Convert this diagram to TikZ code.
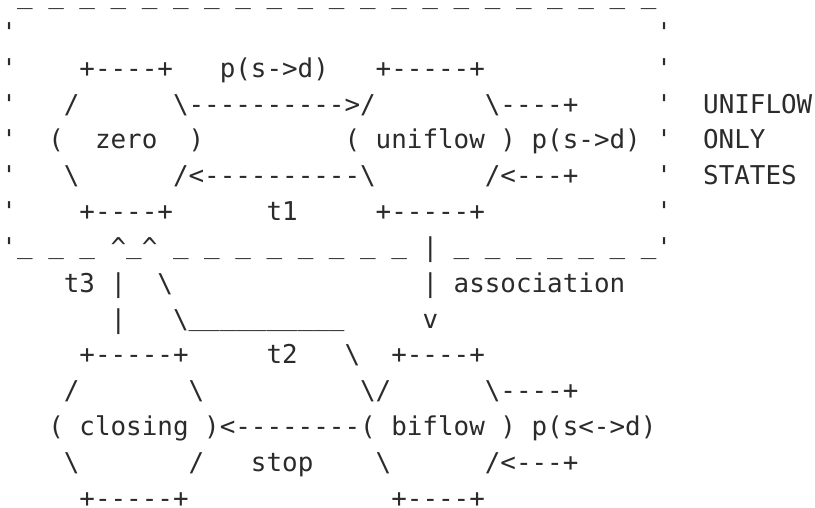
\documentclass[tikz,border=0pt]{standalone}
\usepackage{fontspec}
\setmonofont{DejaVu Sans Mono}
\definecolor{ink}{HTML}{2B2B2B}
% one character cell of the monospaced font
\newcommand\gap[1]{\hskip#1\fontcharwd\font`M\relax}
\newcommand\bs{\textbackslash}
\newcommand\ca{\textasciicircum}
\newcommand\q{\textquotesingle}
% underscore sitting just below the baseline
\newcommand\us{\raisebox{2.5pt}{\_}}
\newcommand\uls[1]{\foreach \i in {1,...,#1}{\gap{1}\us}}
\tikzset{
  asciiline/.style={anchor=base west, inner sep=0pt, outer sep=0pt, text=ink,
    font=\ttfamily\fontsize{25.9pt}{30pt}\selectfont},
}
\begin{document}
\begin{tikzpicture}[x=1pt,y=-1pt]
\fill[white] (0,0) rectangle (815,508);
\useasboundingbox (0,0) rectangle (815,508);
% baseline of line k sits at 5.8 + (k-1)*35.8
\node[asciiline] (l1)  at (1.5,5.8)   {\uls{21}};
\node[asciiline] (l2)  at (1.5,41.6)  {\q\gap{41}\q};
\node[asciiline] (l3)  at (1.5,77.4)  {\q\gap{4}+----+\gap{3}p(s->d)\gap{3}+-----+\gap{11}\q};
\node[asciiline] (l4)  at (1.5,113.2) {\q\gap{3}/\gap{6}\bs---------->/\gap{7}\bs----+\gap{5}\q\gap{2}UNIFLOW};
\node[asciiline] (l5)  at (1.5,149.0) {\q\gap{2}(\gap{2}zero\gap{2})\gap{9}(\gap{1}uniflow\gap{1})\gap{1}p(s->d)\gap{1}\q\gap{2}ONLY};
\node[asciiline] (l6)  at (1.5,184.8) {\q\gap{3}\bs\gap{6}/<----------\bs\gap{7}/<---+\gap{5}\q\gap{2}STATES};
\node[asciiline] (l7)  at (1.5,220.6) {\q\gap{4}+----+\gap{6}t1\gap{5}+-----+\gap{11}\q};
\node[asciiline] (l8)  at (1.5,256.4) {\q\us\gap{1}\us\gap{1}\us\gap{1}\ca\us\ca\uls{8}\gap{1}|\uls{7}\q};
\node[asciiline] (l9)  at (1.5,292.2) {\gap{4}t3\gap{1}|\gap{2}\bs\gap{16}|\gap{1}association};
\node[asciiline] (l10) at (1.5,328.0) {\gap{7}|\gap{3}\bs\us\us\us\us\us\us\us\us\us\us\gap{5}v};
\node[asciiline] (l11) at (1.5,363.8) {\gap{5}+-----+\gap{5}t2\gap{3}\bs\gap{2}+----+};
\node[asciiline] (l12) at (1.5,399.6) {\gap{4}/\gap{7}\bs\gap{10}\bs/\gap{6}\bs----+};
\node[asciiline] (l13) at (1.5,435.4) {\gap{3}(\gap{1}closing\gap{1})<--------(\gap{1}biflow\gap{1})\gap{1}p(s<->d)};
\node[asciiline] (l14) at (1.5,471.2) {\gap{4}\bs\gap{7}/\gap{3}stop\gap{4}\bs\gap{6}/<---+};
\node[asciiline] (l15) at (1.5,507.0) {\gap{5}+-----+\gap{13}+----+};
\end{tikzpicture}
\end{document}
